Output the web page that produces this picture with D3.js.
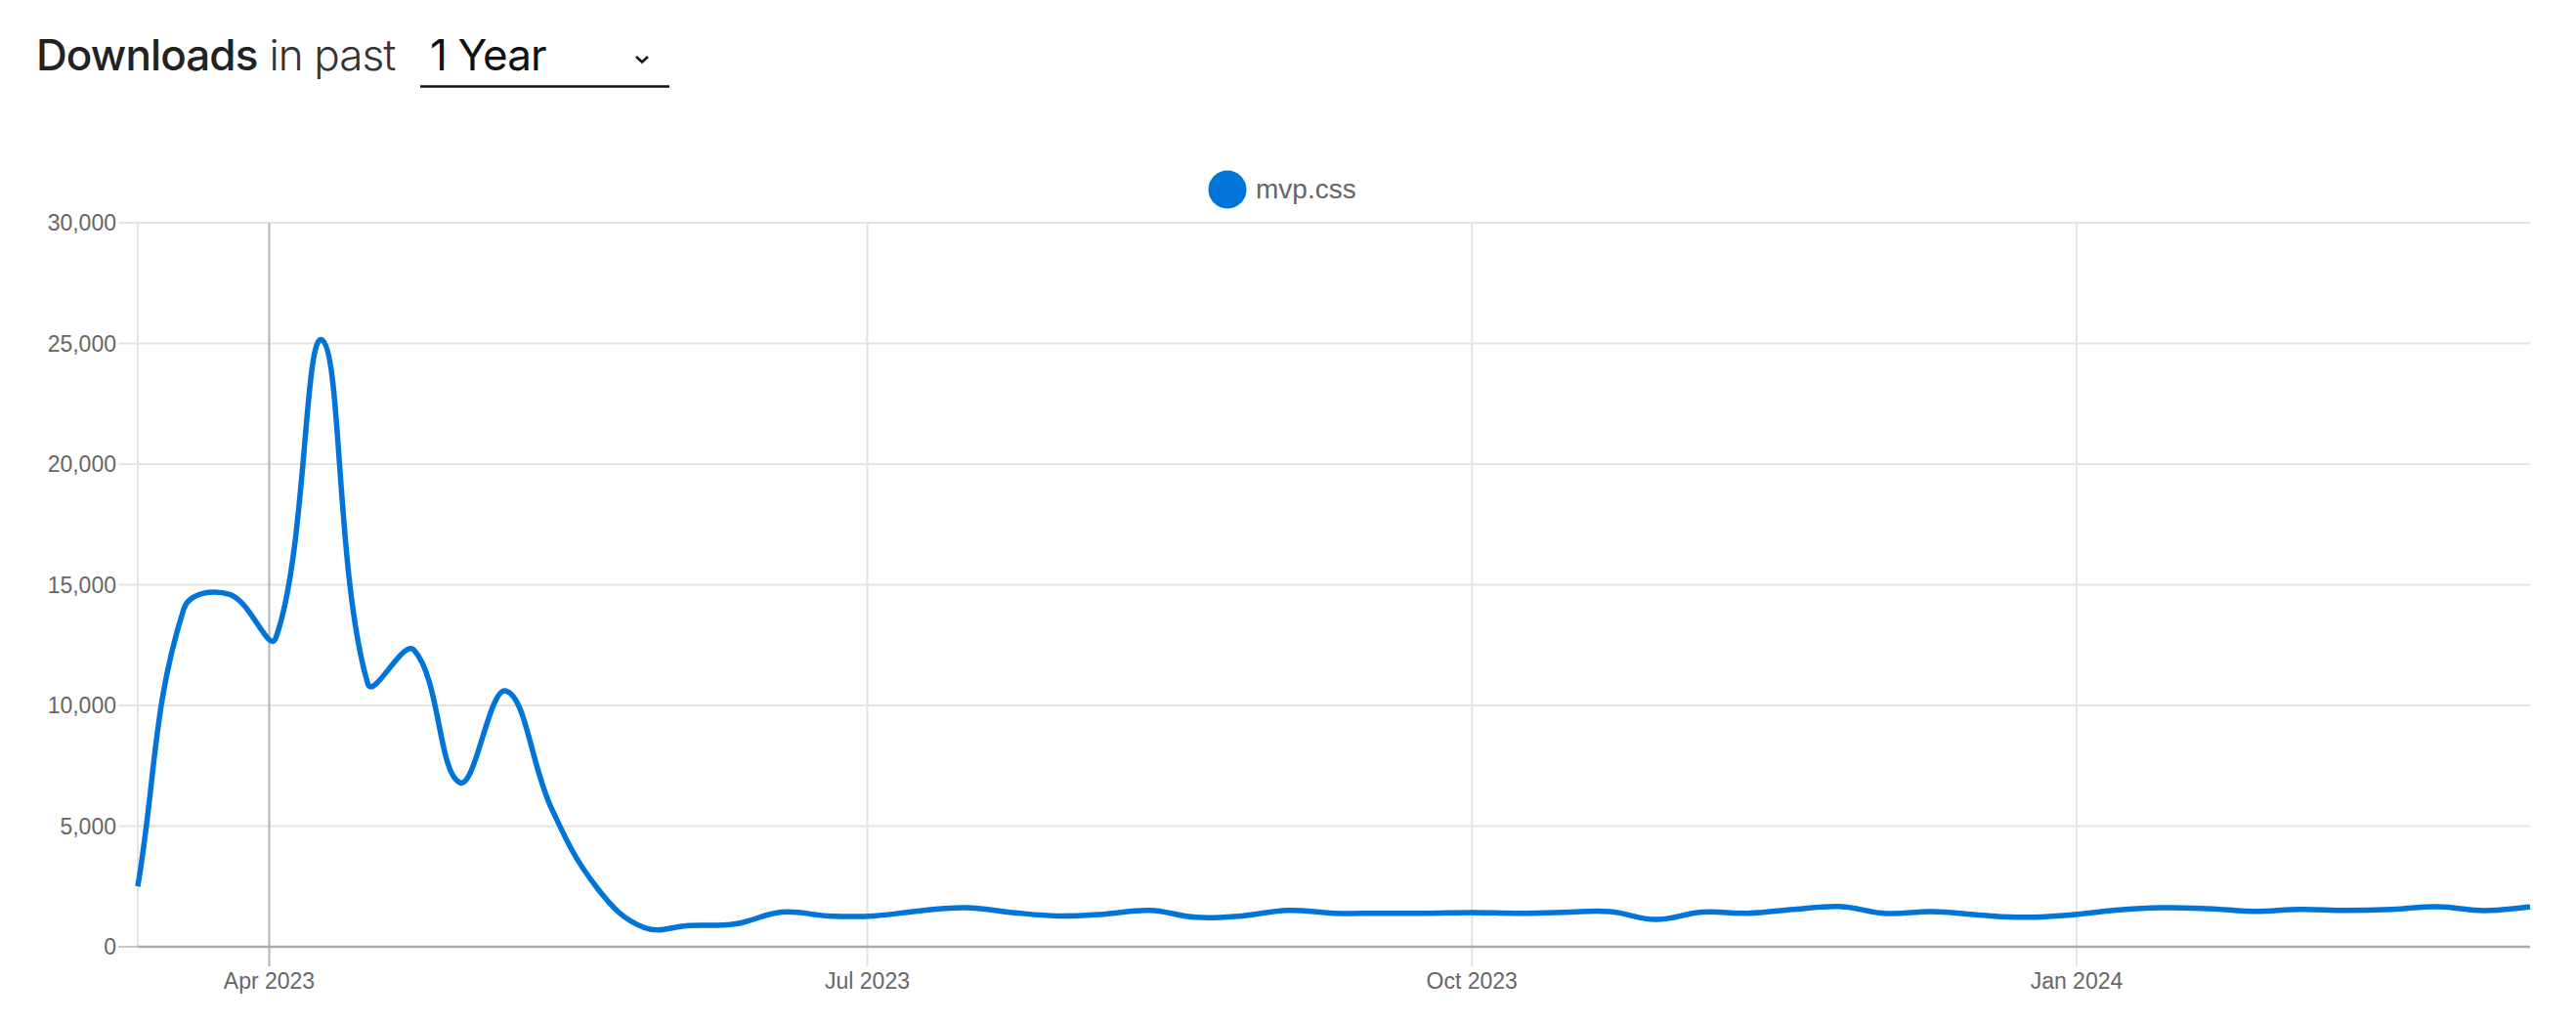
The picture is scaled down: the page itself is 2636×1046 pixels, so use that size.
<!DOCTYPE html>
<html>
<head>
<meta charset="utf-8">
<script src="https://cdn.jsdelivr.net/npm/d3@7"></script>
<style>
  html, body { margin: 0; padding: 0; background: #fff; }
  svg { display: block; }
</style>
</head>
<body>
<svg id="chart" width="2636" height="1046"></svg>
<script>
// ---- data ----
const seriesName = "mvp.css";
const weeks = [
  "2023-03-12","2023-03-19","2023-03-26","2023-04-02","2023-04-09","2023-04-16","2023-04-23","2023-04-30",
  "2023-05-07","2023-05-14","2023-05-21","2023-05-28","2023-06-04","2023-06-11","2023-06-18","2023-06-25",
  "2023-07-02","2023-07-09","2023-07-16","2023-07-23","2023-07-30","2023-08-06","2023-08-13","2023-08-20",
  "2023-08-27","2023-09-03","2023-09-10","2023-09-17","2023-09-24","2023-10-01","2023-10-08","2023-10-15",
  "2023-10-22","2023-10-29","2023-11-05","2023-11-12","2023-11-19","2023-11-26","2023-12-03","2023-12-10",
  "2023-12-17","2023-12-24","2023-12-31","2024-01-07","2024-01-14","2024-01-21","2024-01-28","2024-02-04",
  "2024-02-11","2024-02-18","2024-02-25","2024-03-03","2024-03-10"
];
const downloads = [
  2500, 14000, 14600, 12800, 25150, 10900, 12300, 6800, 10600, 5700,
  2400, 800, 880, 950, 1440, 1280, 1280, 1490, 1620, 1420,
  1280, 1350, 1510, 1220, 1280, 1510, 1390, 1390, 1390, 1420,
  1390, 1430, 1460, 1130, 1440, 1390, 1550, 1670, 1380, 1460,
  1320, 1220, 1320, 1520, 1620, 1580, 1470, 1550, 1510, 1550,
  1660, 1500, 1650
];
const yTicks = [0, 5000, 10000, 15000, 20000, 25000, 30000];
const xTickDates = ["2023-04-01", "2023-07-01", "2023-10-01", "2024-01-01"];
const highlightDate = "2023-04-01";

(function () {
// ---- layout ----
const svg = d3.select("#chart");
const pLeft = 141, pRight = 2589, pTop = 228, pBottom = 969;
const parse = d3.utcParse("%Y-%m-%d");
const data = weeks.map((w, i) => ({ date: parse(w), value: downloads[i] }));

const x = d3.scaleUtc().domain([parse(weeks[0]), parse(weeks[weeks.length - 1])]).range([pLeft, pRight]);
const y = d3.scaleLinear().domain([0, 30000]).range([pBottom, pTop]);

const labelFont = "'Helvetica Neue', Helvetica, Arial, 'Liberation Sans', sans-serif";
const titleFont = "Inter, 'Helvetica Neue', Arial, sans-serif";

// ---- header ----
const hdr = svg.append("text").attr("x", 37).attr("y", 72)
  .attr("font-family", titleFont).attr("font-size", 44).attr("letter-spacing", "-0.9");
hdr.append("tspan").attr("font-weight", 500).attr("fill", "#222").text("Downloads");
hdr.append("tspan").attr("font-weight", 300).attr("fill", "#333").attr("dx", 12).text("in past");
svg.append("text").attr("x", 440).attr("y", 72)
  .attr("font-family", titleFont).attr("font-size", 44).attr("letter-spacing", "-0.9")
  .attr("font-weight", 400).attr("fill", "#111").text("1 Year");
svg.append("path").attr("d", "M651,58 L657,63.5 L663,58").attr("fill", "none")
  .attr("stroke", "#111").attr("stroke-width", 2.6);
svg.append("line").attr("x1", 430).attr("x2", 685).attr("y1", 88.5).attr("y2", 88.5)
  .attr("stroke", "#111").attr("stroke-width", 2.6);

// ---- legend ----
svg.append("circle").attr("cx", 1256).attr("cy", 194).attr("r", 19.5).attr("fill", "#0074d9");
svg.append("text").attr("x", 1285).attr("y", 203).attr("font-family", labelFont)
  .attr("font-size", 28).attr("fill", "#666").text(seriesName);

// ---- grid ----
const grid = svg.append("g");
grid.selectAll("line.h").data(yTicks.filter(v => v !== 0)).enter().append("line")
  .attr("x1", pLeft - 20).attr("x2", pRight)
  .attr("y1", d => y(d)).attr("y2", d => y(d))
  .attr("stroke", "#e4e4e4").attr("stroke-width", 2);
grid.append("line").attr("x1", pLeft).attr("x2", pLeft).attr("y1", pTop).attr("y2", pBottom)
  .attr("stroke", "#e4e4e4").attr("stroke-width", 2);
grid.selectAll("line.v").data(xTickDates).enter().append("line")
  .attr("x1", d => x(parse(d))).attr("x2", d => x(parse(d)))
  .attr("y1", pTop).attr("y2", pBottom + 20)
  .attr("stroke", d => d === highlightDate ? "#b3b3b3" : "#e4e4e4")
  .attr("stroke-width", 2);
grid.append("line").attr("x1", pLeft - 20).attr("x2", pLeft).attr("y1", y(0)).attr("y2", y(0))
  .attr("stroke", "#c8c8c8").attr("stroke-width", 2);
grid.append("line").attr("x1", pLeft).attr("x2", pRight).attr("y1", y(0)).attr("y2", y(0))
  .attr("stroke", "#ababab").attr("stroke-width", 2.5);

// ---- axis labels ----
const fmt = d3.format(",");
svg.append("g").selectAll("text").data(yTicks).enter().append("text")
  .attr("x", pLeft - 22).attr("y", d => y(d)).attr("dy", "0.35em")
  .attr("text-anchor", "end").attr("font-family", labelFont).attr("font-size", 23)
  .attr("fill", "#666").text(d => fmt(d));
const xfmt = d3.utcFormat("%b %Y");
svg.append("g").selectAll("text").data(xTickDates).enter().append("text")
  .attr("x", d => x(parse(d))).attr("y", 1012)
  .attr("text-anchor", "middle").attr("font-family", labelFont).attr("font-size", 23)
  .attr("fill", "#666").text(d => xfmt(parse(d)));

// ---- Chart.js-style spline curve ----
function splineCurve(t) {
  return function(context) {
    return {
      pts: [],
      areaStart() {}, areaEnd() {},
      lineStart() { this.pts = []; },
      point(px, py) { this.pts.push({ x: +px, y: +py }); },
      lineEnd() {
        const p = this.pts, n = p.length;
        if (!n) return;
        const cp = p.map((c, i) => {
          const a = p[i - 1] || c, b = p[i + 1] || c;
          const d01 = Math.hypot(c.x - a.x, c.y - a.y), d12 = Math.hypot(b.x - c.x, b.y - c.y);
          let s01 = d01 / (d01 + d12), s12 = d12 / (d01 + d12);
          if (!isFinite(s01)) s01 = 0;
          if (!isFinite(s12)) s12 = 0;
          const fa = t * s01, fb = t * s12;
          return {
            px: c.x - fa * (b.x - a.x), py: c.y - fa * (b.y - a.y),
            nx: c.x + fb * (b.x - a.x), ny: c.y + fb * (b.y - a.y)
          };
        });
        context.moveTo(p[0].x, p[0].y);
        for (let i = 1; i < n; i++) {
          context.bezierCurveTo(cp[i - 1].nx, cp[i - 1].ny, cp[i].px, cp[i].py, p[i].x, p[i].y);
        }
      }
    };
  };
}

const line = d3.line().x(d => x(d.date)).y(d => y(d.value)).curve(splineCurve(0.4));
svg.append("path").datum(data).attr("d", line)
  .attr("fill", "none").attr("stroke", "#0074d9").attr("stroke-width", 5.5)
  .attr("stroke-linejoin", "round");
})();
</script>
</body>
</html>
